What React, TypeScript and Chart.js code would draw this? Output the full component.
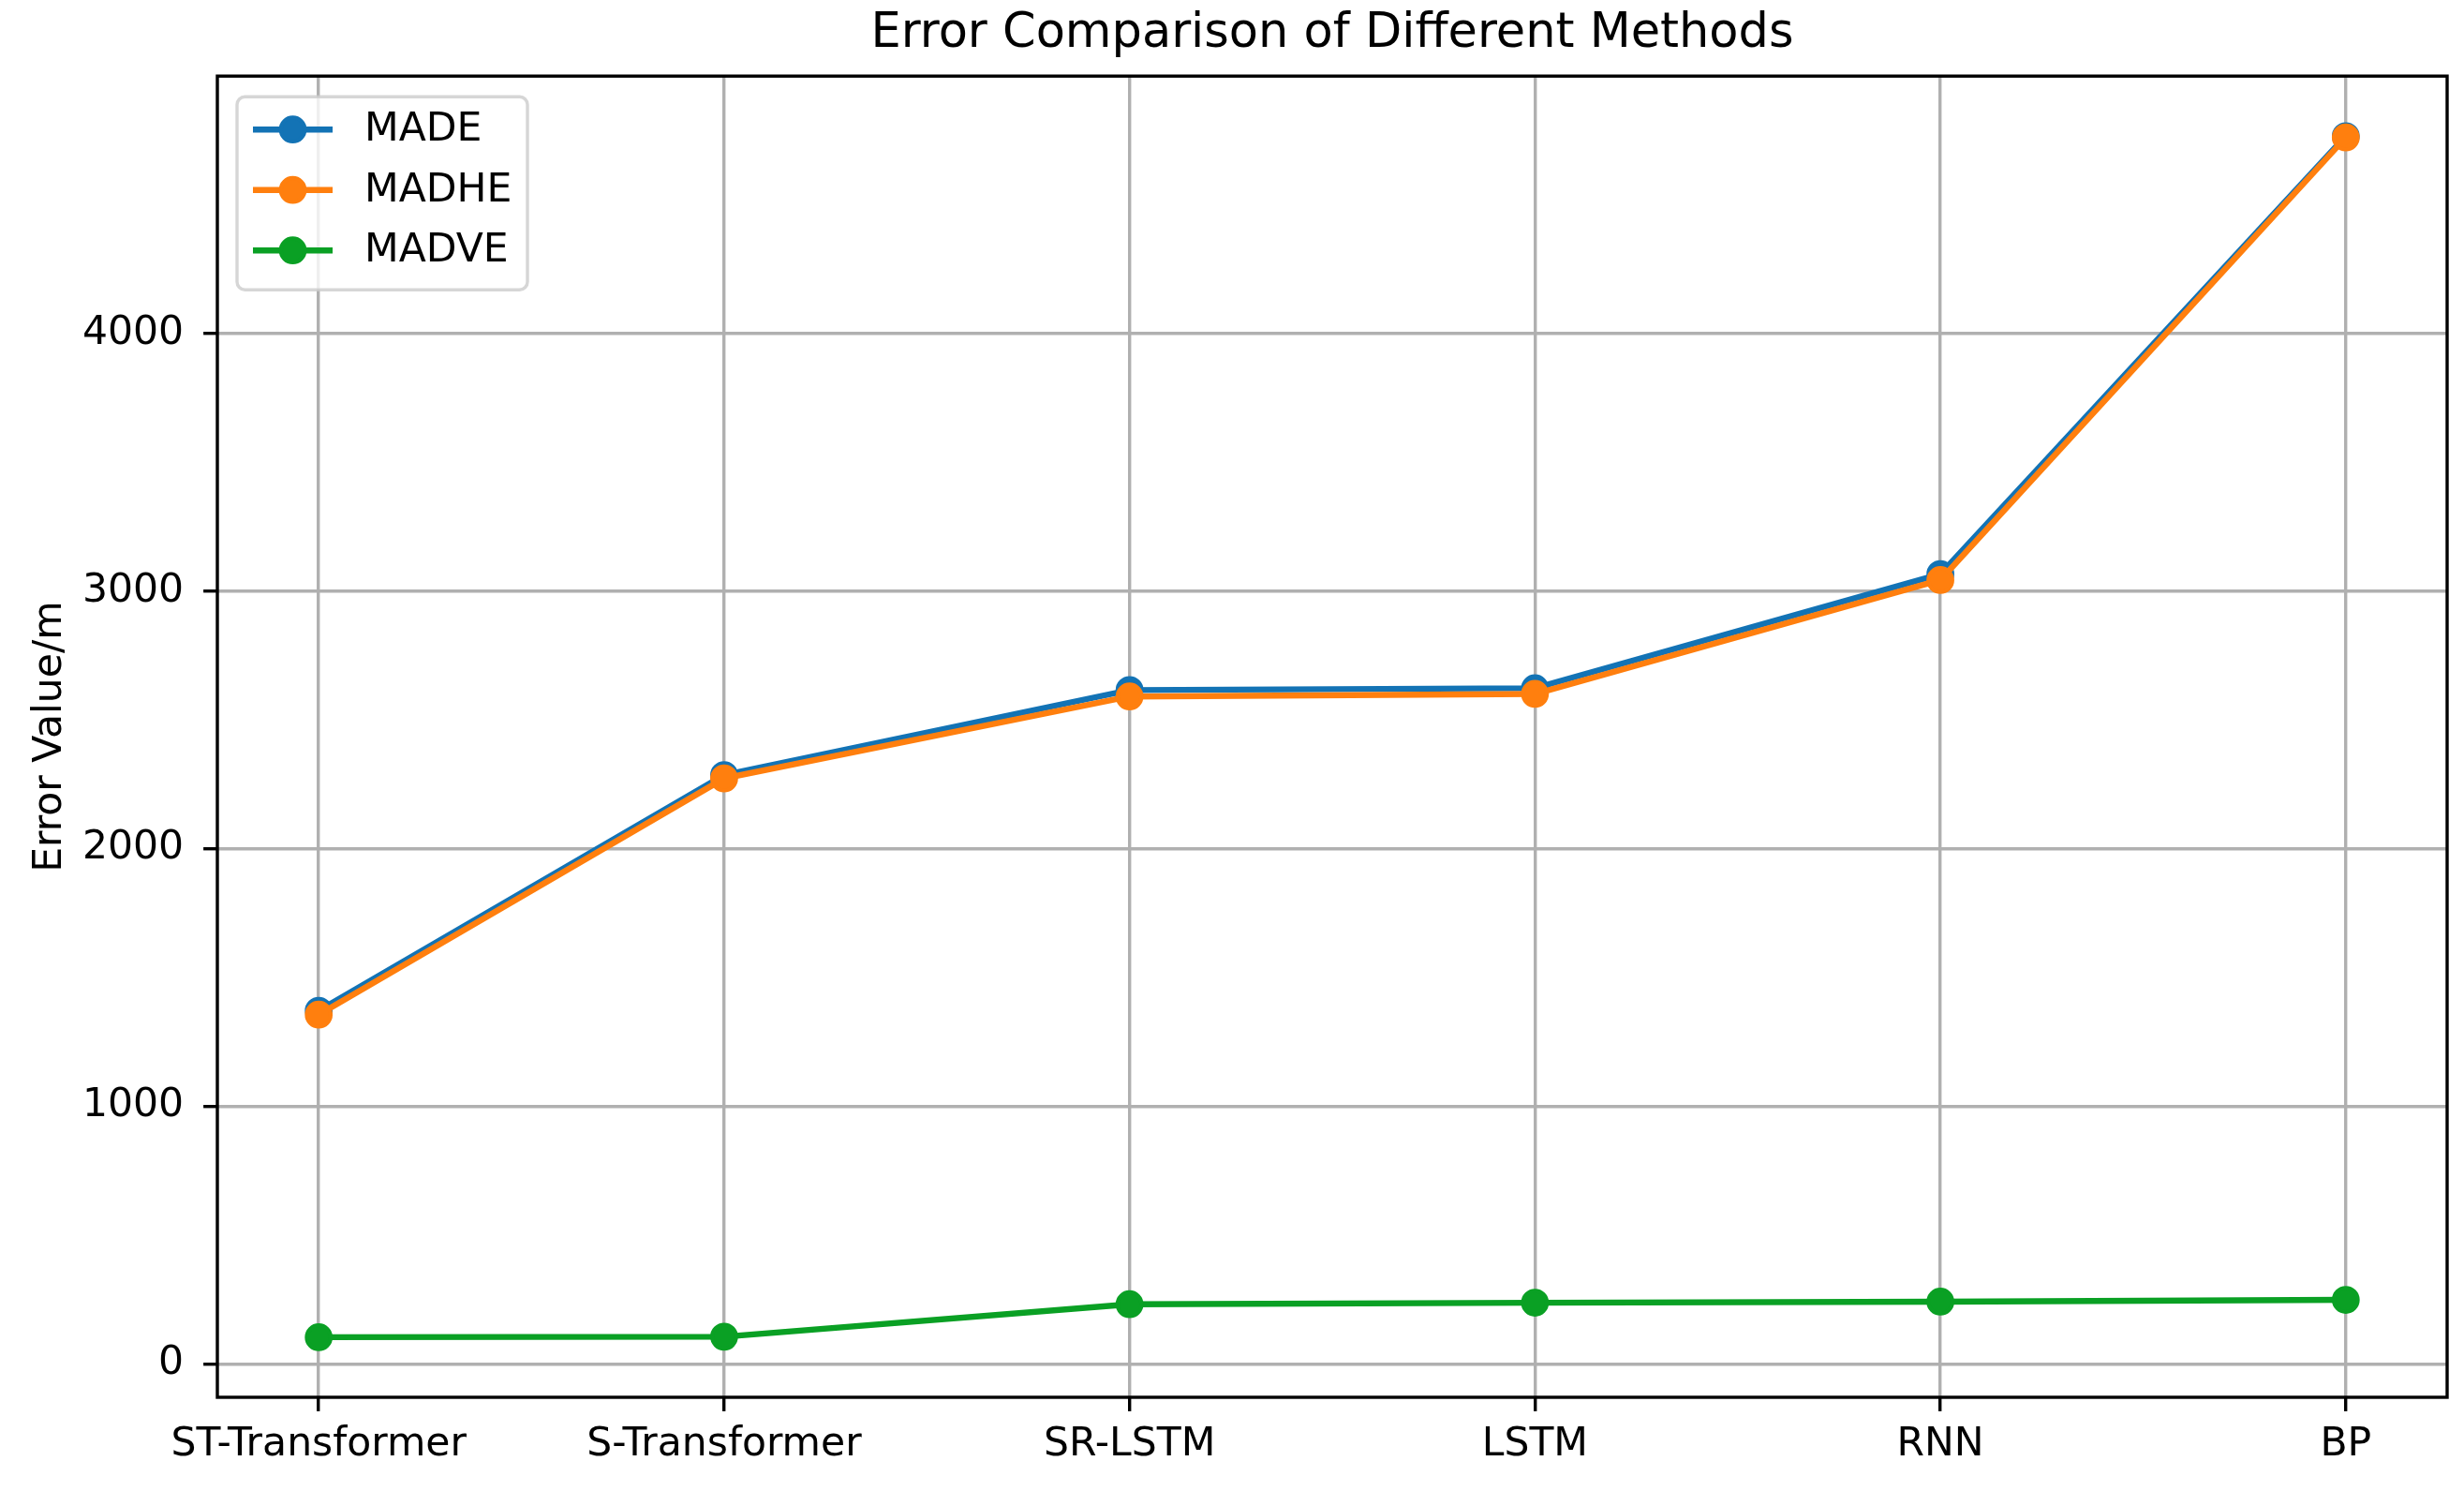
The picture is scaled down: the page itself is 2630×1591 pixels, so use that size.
import React, { useEffect, useRef } from "react";
import { Chart, registerables } from "chart.js";

Chart.register(...registerables);

// ---- data ----
const categories = ["ST-Transformer", "S-Transformer", "SR-LSTM", "LSTM", "RNN", "BP"];
const madeValues = [1370, 2285, 2615, 2622, 3065, 4765];
const madheValues = [1355, 2272, 2590, 2600, 3042, 4760];
const madveValues = [103, 105, 231, 237, 241, 248];
const seriesNames = ["MADE", "MADHE", "MADVE"];
const seriesColors = ["#1373b5", "#ff7f0e", "#0aa024"];
const yTickValues = [0, 1000, 2000, 3000, 4000];
const titleText = "Error Comparison of Different Methods";
const yAxisTitle = "Error Value/m";

const FS = 42.5; // base font size (px)
const FONT = "'DejaVu Sans', 'Liberation Sans', sans-serif";

const spinesPlugin = {
  id: "spines",
  afterDatasetsDraw(chart: any) {
    const { ctx, chartArea: a } = chart;
    ctx.save();
    ctx.strokeStyle = "#000";
    ctx.lineWidth = 3.4;
    ctx.strokeRect(a.left, a.top, a.right - a.left, a.bottom - a.top);
    ctx.restore();
  },
};

const legendPlugin = {
  id: "mplLegend",
  afterDraw(chart: any) {
    const { ctx, chartArea: a } = chart;
    const x0 = a.left + 21;
    const y0 = a.top + 22;
    const w = 310;
    const h = 206;
    const r = 8.5;
    ctx.save();
    ctx.beginPath();
    ctx.moveTo(x0 + r, y0);
    ctx.lineTo(x0 + w - r, y0);
    ctx.arcTo(x0 + w, y0, x0 + w, y0 + r, r);
    ctx.lineTo(x0 + w, y0 + h - r);
    ctx.arcTo(x0 + w, y0 + h, x0 + w - r, y0 + h, r);
    ctx.lineTo(x0 + r, y0 + h);
    ctx.arcTo(x0, y0 + h, x0, y0 + h - r, r);
    ctx.lineTo(x0, y0 + r);
    ctx.arcTo(x0, y0, x0 + r, y0, r);
    ctx.closePath();
    ctx.fillStyle = "rgba(255,255,255,0.8)";
    ctx.fill();
    ctx.strokeStyle = "rgba(204,204,204,0.8)";
    ctx.lineWidth = 3.4;
    ctx.stroke();

    chart.data.datasets.forEach((ds: any, i: number) => {
      const cy = y0 + 35 + i * 64.5;
      const lx0 = x0 + 17;
      const lx1 = lx0 + 85;
      ctx.strokeStyle = ds.borderColor;
      ctx.lineWidth = 6.4;
      ctx.beginPath();
      ctx.moveTo(lx0, cy);
      ctx.lineTo(lx1, cy);
      ctx.stroke();
      ctx.beginPath();
      ctx.arc((lx0 + lx1) / 2, cy, 12.75, 0, Math.PI * 2);
      ctx.fillStyle = ds.borderColor;
      ctx.fill();
      ctx.lineWidth = 4.25;
      ctx.stroke();
      ctx.fillStyle = "#000";
      ctx.font = `${FS}px ${FONT}`;
      ctx.textAlign = "left";
      ctx.textBaseline = "middle";
      ctx.fillText(ds.label, lx1 + 34, cy + 1);
    });
    ctx.restore();
  },
};

export default function App() {
  const canvasRef = useRef<HTMLCanvasElement | null>(null);

  useEffect(() => {
    const canvas = canvasRef.current;
    if (!canvas) return;
    const all = [...madeValues, ...madheValues, ...madveValues];
    const dMin = Math.min(...all);
    const dMax = Math.max(...all);
    const margin = 0.05 * (dMax - dMin);

    const seriesValues = [madeValues, madheValues, madveValues];
    const datasets = seriesNames.map((name, s) => ({
      label: name,
      data: seriesValues[s].map((v, i) => ({ x: i, y: v })),
      borderColor: seriesColors[s],
      backgroundColor: seriesColors[s],
      pointBackgroundColor: seriesColors[s],
      pointBorderColor: seriesColors[s],
      borderWidth: 6.4,
      pointRadius: 12.75,
      pointBorderWidth: 4.25,
      pointHoverRadius: 12.75,
      tension: 0,
      fill: false,
      order: 2 - s,
    }));

    const chart = new Chart(canvas, {
      type: "line",
      data: { datasets },
      options: {
        animation: false,
        responsive: false,
        devicePixelRatio: 1,
        events: [],
        layout: { padding: { left: 0, right: 18, top: 0, bottom: 0 } },
        plugins: {
          legend: { display: false },
          tooltip: { enabled: false },
          title: {
            display: true,
            fullSize: false,
            text: titleText,
            color: "#000",
            font: { family: FONT, size: 51, weight: "normal", lineHeight: 1.2 },
            padding: { top: 6, bottom: 14 },
          },
        },
        scales: {
          x: {
            type: "linear",
            min: -0.25,
            max: categories.length - 1 + 0.25,
            afterBuildTicks: (scale: any) => {
              scale.ticks = categories.map((_, i) => ({ value: i }));
            },
            afterFit: (scale: any) => {
              scale.height = 100;
            },
            ticks: {
              autoSkip: false,
              maxRotation: 0,
              minRotation: 0,
              color: "#000",
              padding: 11,
              font: { family: FONT, size: FS },
              callback: (v: any) => categories[v] ?? "",
            },
            grid: {
              color: "#b0b0b0",
              lineWidth: 3.4,
              drawTicks: true,
              tickLength: 14.9,
              tickColor: "#000",
              tickWidth: 3.4,
            },
            border: { display: false },
          },
          y: {
            type: "linear",
            min: dMin - margin,
            max: dMax + margin,
            afterBuildTicks: (scale: any) => {
              scale.ticks = yTickValues.map((v) => ({ value: v }));
            },
            afterFit: (scale: any) => {
              scale.width = 232;
            },
            ticks: {
              color: "#000",
              padding: 21,
              font: { family: FONT, size: FS },
              callback: (v: any) => String(v),
            },
            grid: {
              color: "#b0b0b0",
              lineWidth: 3.4,
              drawTicks: true,
              tickLength: 14.9,
              tickColor: "#000",
              tickWidth: 3.4,
            },
            border: { display: false },
            title: {
              display: true,
              text: yAxisTitle,
              color: "#000",
              font: { family: FONT, size: FS, lineHeight: 1.2 },
              padding: { top: 28, bottom: 0 },
            },
          },
        },
      },
      plugins: [spinesPlugin, legendPlugin],
    } as any);

    return () => chart.destroy();
  }, []);

  return (
    <div style={{ position: "fixed", left: 0, top: 0, width: 2630, height: 1591, background: "#fff" }}>
      <canvas ref={canvasRef} width={2630} height={1591} style={{ display: "block", width: 2630, height: 1591 }} />
    </div>
  );
}
